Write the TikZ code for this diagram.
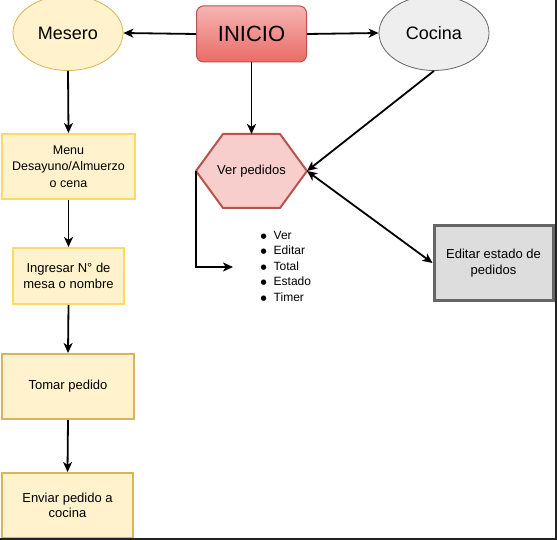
\documentclass[tikz,border=0pt]{standalone}
\usepackage{fontspec}
\setmainfont{Liberation Sans}
\newfontfamily\dejavu{DejaVu Sans}
\usetikzlibrary{arrows.meta,shapes.geometric}
\definecolor{yfill}{HTML}{FFF2CC}
\definecolor{ybright}{HTML}{FFD966}
\definecolor{ydark}{HTML}{D6B656}
\definecolor{rtop}{HTML}{F5B5B2}
\definecolor{rbot}{HTML}{EA6B66}
\definecolor{rdraw}{HTML}{B85450}
\definecolor{rfill}{HTML}{F8CECC}
\definecolor{gfill}{HTML}{EEEEEE}
\definecolor{gdraw}{HTML}{666666}
\definecolor{efill}{HTML}{DDDDDD}
\definecolor{framec}{HTML}{222222}
\newcommand{\blt}{\makebox[13pt][l]{\raisebox{1pt}{\dejavu\fontsize{7}{7}\selectfont ●}}}
\begin{document}
\begin{tikzpicture}[x=1pt,y=-1pt,
  txt/.style={font=\fontsize{13}{15.7}\selectfont, align=center, text=black},
  ell/.style={ellipse, inner sep=0pt, font=\fontsize{18}{20}\selectfont, text=black},
  ybox/.style={rectangle, draw=ybright, fill=yfill, line width=2pt, inner sep=0pt, txt},
  ydbox/.style={rectangle, draw=ydark, fill=yfill, line width=2pt, inner sep=0pt, txt},
  arr/.style={-{Stealth[length=10pt,width=9pt,inset=2.8pt]}, line width=1.8pt, black},
  arrtwo/.style={{Stealth[length=10pt,width=9pt,inset=2.8pt]}-{Stealth[length=10pt,width=9pt,inset=2.8pt]}, line width=1.8pt, black}
]
\useasboundingbox (0,0) rectangle (557,540);
\fill[white] (0,0) rectangle (557,540);

% top row
\node[ell, draw=ydark, fill=yfill, line width=0.8pt, minimum width=110pt, minimum height=75pt] (mesero) at (68,33) {Mesero};
\node[rectangle, rounded corners=7pt, draw=rdraw, top color=rtop, bottom color=rbot, line width=1pt,
      minimum width=110pt, minimum height=56pt, inner sep=0pt, font=\fontsize{22}{24}\selectfont, text=black] (inicio) at (251.5,34) {INICIO};
\node[ell, draw=gdraw, fill=gfill, line width=0.8pt, minimum width=110pt, minimum height=75pt] (cocina) at (434,33) {Cocina};

% left column
\node[ybox, minimum width=133pt, minimum height=65pt, font=\fontsize{12.5}{16.3}\selectfont] (menu) at (68.5,166.5) {Menu\\Desayuno/Almuerzo\\o cena};
\node[ybox, minimum width=111pt, minimum height=56pt] (ingresar) at (68.5,276) {Ingresar N° de\\mesa o nombre};
\node[ydbox, minimum width=132pt, minimum height=65pt] (tomar) at (68,386.5) {Tomar pedido};
\node[ydbox, minimum width=131pt, minimum height=65pt] (enviar) at (67.5,505.5) {Enviar pedido a\\cocina};

% hexagon
\coordinate (hL) at (196,171);
\coordinate (hTL) at (223,134);
\coordinate (hT) at (251.5,134);
\coordinate (hTR) at (280,134);
\coordinate (hR) at (307,171);
\coordinate (hBR) at (280,208);
\coordinate (hBL) at (223,208);
\filldraw[fill=rfill, draw=rdraw, line width=2pt, line join=miter] (hL) -- (hTL) -- (hTR) -- (hR) -- (hBR) -- (hBL) -- cycle;
\node[txt] (ver) at (251.5,171) {Ver pedidos};

% editar box
\node[rectangle, draw=gdraw, fill=efill, line width=3pt, minimum width=119pt, minimum height=74pt, inner sep=0pt, txt] (editar) at (493.5,263) {Editar estado de\\pedidos};

% bullet list
\node[anchor=north west, inner sep=0pt, align=left, font=\fontsize{12}{15.5}\selectfont, text=black] (lista) at (260.5,231)
  {\blt Ver\\\blt Editar\\\blt Total\\\blt Estado\\\blt Timer};
\coordinate (listin) at (233,267);

% connectors
\draw[arr] (inicio.west) -- (mesero.east);
\draw[arr] (inicio.east) -- (cocina.west);
\draw[arr] (inicio.south) -- (hT);
\draw[arr] (cocina.south) -- (hR);
\draw[arrtwo] (hR) -- (editar.west);
\draw[arr] (hL) |- (listin);
\draw[arr] (mesero.south) -- (menu.north);
\draw[arr] (menu.south) -- (ingresar.north);
\draw[arr] (ingresar.south) -- (tomar.north);
\draw[arr] (tomar.south) -- (enviar.north);

% screenshot frame edges
\fill[framec] (555,0) rectangle (557,540);
\fill[framec] (0,538) rectangle (557,540);
\end{tikzpicture}
\end{document}
